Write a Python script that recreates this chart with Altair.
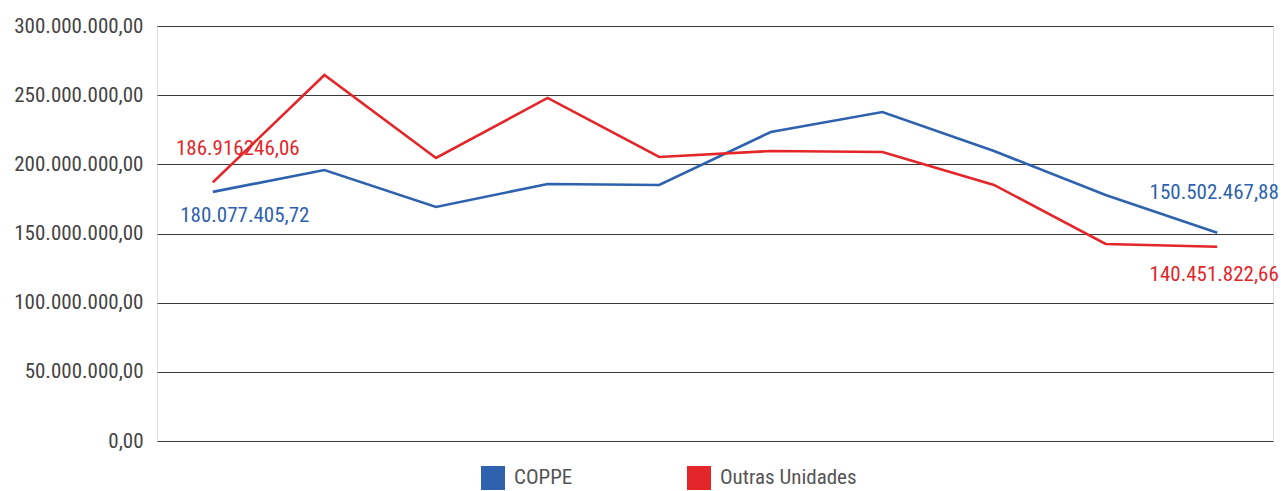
import altair as alt
import pandas as pd

periods = ["1", "2", "3", "4", "5", "6", "7", "8", "9", "10"]
series_names = ["COPPE", "Outras Unidades"]
coppe = [180077405.72, 195900000, 169200000, 185800000, 185100000,
         223400000, 237800000, 209600000, 177800000, 150502467.88]
outras = [186916246.06, 264600000, 204600000, 248000000, 205300000,
          209600000, 208900000, 185100000, 142400000, 140451822.66]
label_texts = ["186.916246,06", "180.077.405,72", "150.502.467,88", "140.451.822,66"]
colors = ["#2e62ae", "#e3262a"]

rows = []
for i, p in enumerate(periods):
    rows.append({"period": p, "series": series_names[0], "value": coppe[i]})
    rows.append({"period": p, "series": series_names[1], "value": outras[i]})
df = pd.DataFrame(rows)

FONT = "Roboto Condensed, Liberation Sans Narrow, DejaVu Sans Condensed, Roboto, sans-serif"

xenc = alt.X("period:N", sort=periods, axis=None,
             scale=alt.Scale(type="point", padding=0.5))
yenc = alt.Y("value:Q", scale=alt.Scale(domain=[0, 300000000], nice=False),
             axis=alt.Axis(values=[0, 50e6, 100e6, 150e6, 200e6, 250e6, 300e6],
                           format=",.2f", title=None, domain=False, ticks=False,
                           labelPadding=14, labelFontSize=21, labelFont=FONT,
                           labelColor="#444444", gridColor="#3a3a3a",
                           gridWidth=1.2, gridOpacity=1))

lines = alt.Chart(df).mark_line(strokeWidth=2.6).encode(
    x=xenc, y=yenc,
    color=alt.Color("series:N", sort=series_names,
                    scale=alt.Scale(domain=series_names, range=colors),
                    legend=alt.Legend(title=None, orient="none", direction="horizontal",
                                      legendX=324, legendY=440, padding=0,
                                      symbolType="square", symbolSize=144,
                                      symbolStrokeWidth=12, symbolOpacity=1,
                                      labelFontSize=21, labelFont=FONT,
                                      labelColor="#555555", labelOffset=9,
                                      columnPadding=96)),
)

def label_layer(period, value, text, color, dx, dy):
    d = pd.DataFrame({"period": [period], "value": [value], "label": [text]})
    return alt.Chart(d).mark_text(font=FONT, fontSize=21, color=color, dx=dx, dy=dy,
                                  baseline="middle", align="center").encode(
        x=xenc, y=alt.Y("value:Q"), text="label:N")

labels = [
    label_layer(periods[0], outras[0], label_texts[0], colors[1], 25, -33),
    label_layer(periods[0], coppe[0], label_texts[1], colors[0], 32, 24),
    label_layer(periods[-1], coppe[-1], label_texts[2], colors[0], -3, -40),
    label_layer(periods[-1], outras[-1], label_texts[3], colors[1], -3, 28),
]

chart = alt.layer(lines, *labels).properties(
    width=1116, height=415,
    autosize=alt.AutoSizeParams(type="none"),
    padding={"left": 149, "top": 18, "right": 6, "bottom": 50},
).configure_view(stroke=None).configure(
    locale=alt.Locale(number=alt.NumberLocale(decimal=",", thousands=".",
                                              grouping=[3], currency=["R$", ""]))
)

chart.save("out.html", embed_options={"renderer": "svg", "actions": False})
